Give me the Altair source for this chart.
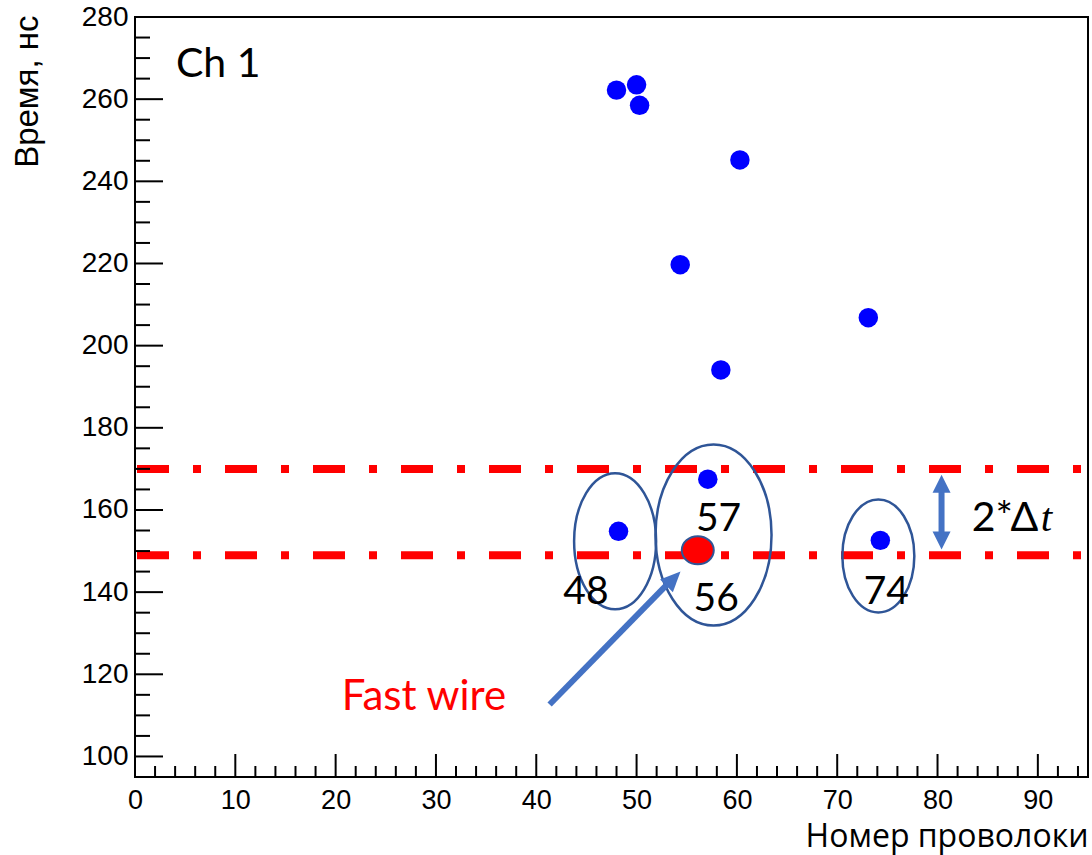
import altair as alt
import pandas as pd

# ---------------- data ----------------
wire = [48.0, 50.0, 50.3, 60.3, 54.35, 73.1, 58.4, 57.1, 48.2, 74.3]
time_ns = [262.2, 263.5, 258.5, 245.2, 219.7, 206.8, 194.1, 167.5, 154.8, 152.6]

fast_wire = [56.1]
fast_time = [150.2]

band_levels = [170.0, 149.0]

group_x = [47.86, 57.67, 74.1]
group_y = [152.4, 153.9, 148.8]

label_text = ["48", "57", "56", "74"]
label_x = [44.95, 58.17, 57.94, 74.9]
label_y = [137.2, 154.8, 135.3, 137.0]

x_major = [0, 10, 20, 30, 40, 50, 60, 70, 80, 90]
x_minor = [v for v in range(2, 96, 2) if v % 10 != 0]
y_major = [100, 120, 140, 160, 180, 200, 220, 240, 260, 280]
y_minor = [v for v in range(105, 280, 5) if v % 20 != 0]

# annotation anchors (data coordinates)
fast_arrow_from = [41.33, 112.65]
fast_arrow_to = [53.1, 142.0]
fast_arrow_tip = [54.38, 145.0]
dt_x = [80.4]
dt_top = [168.6]
dt_bottom = [150.35]
dt_shaft = [164.6, 154.4]

W, H = 953, 760
xs = alt.Scale(domain=[0, 95], nice=False, zero=False)
ys = alt.Scale(domain=[95, 280], nice=False, zero=False)

BLUE_ARROW = "#4472C4"
ELL = "#2F5597"


def ellipse_path(a):
    k = 0.5523
    return (f"M {a} 0 C {a} {k}, {a*k} 1, 0 1 C {-a*k} 1, {-a} {k}, {-a} 0 "
            f"C {-a} {-k}, {-a*k} -1, 0 -1 C {a*k} -1, {a} {-k}, {a} 0 Z")


def X(field="x"):
    return alt.X(f"{field}:Q", scale=xs, axis=None)


def Y(field="y"):
    return alt.Y(f"{field}:Q", scale=ys, axis=None)


# ---------------- base layer with the axes ----------------
pts = pd.DataFrame({"x": wire, "y": time_ns})
points = alt.Chart(pts).mark_circle(size=380, color="#0000FF", opacity=1).encode(
    x=alt.X("x:Q", scale=xs, axis=alt.Axis(
        values=x_major, grid=False, ticks=False, domain=False,
        labelFont="Liberation Sans", labelFontSize=27, labelColor="black",
        labelPadding=10, labelFlush=False, labelOverlap=False,
        title="Номер проволоки", titleFont="Open Sans", titleFontSize=32,
        titleFontWeight="normal", titleColor="black",
        titleX=W, titleY=69, titleAlign="right", titleBaseline="alphabetic",
        titleAnchor="end")),
    y=alt.Y("y:Q", scale=ys, axis=alt.Axis(
        values=y_major, grid=False, ticks=False, domain=False,
        labelFont="Liberation Sans", labelFontSize=28, labelColor="black",
        labelPadding=7, labelFlush=False, labelOverlap=False,
        title="Время, нс", titleFont="Liberation Sans", titleFontSize=33,
        titleFontWeight="normal", titleColor="black", titleAngle=270,
        titleX=-98, titleY=-2, titleAlign="right", titleBaseline="alphabetic",
        titleAnchor="end")),
)

# inward ticks (ROOT style)
xt_major = alt.Chart(pd.DataFrame({"x": x_major})).mark_rule(color="black", strokeWidth=2).encode(
    x=X(), y=alt.value(H), y2=alt.value(H - 23))
xt_minor = alt.Chart(pd.DataFrame({"x": x_minor})).mark_rule(color="black", strokeWidth=2).encode(
    x=X(), y=alt.value(H), y2=alt.value(H - 11))
yt_major = alt.Chart(pd.DataFrame({"y": y_major})).mark_rule(color="black", strokeWidth=2).encode(
    y=Y(), x=alt.value(0), x2=alt.value(28))
yt_minor = alt.Chart(pd.DataFrame({"y": y_minor})).mark_rule(color="black", strokeWidth=2).encode(
    y=Y(), x=alt.value(0), x2=alt.value(15))

# red dash-dot band
band = alt.Chart(pd.DataFrame({"y": band_levels})).mark_rule(
    color="#FF0000", strokeWidth=8, strokeDash=[32, 24, 8, 24], strokeCap="butt"
).encode(y=Y(), x=alt.value(2), x2=alt.value(W))

# ellipses around groups
ell_specs = [(0.603, 136 ** 2), (0.641, 181 ** 2), (0.637, 113 ** 2)]
ellipses = []
for i, (a, s) in enumerate(ell_specs):
    ellipses.append(
        alt.Chart(pd.DataFrame({"x": [group_x[i]], "y": [group_y[i]]})).mark_point(
            shape=ellipse_path(a), size=s, filled=False, stroke=ELL, strokeWidth=2.5, opacity=1
        ).encode(x=X(), y=Y())
    )

fast = alt.Chart(pd.DataFrame({"x": fast_wire, "y": fast_time})).mark_point(
    shape=ellipse_path(1.143), size=28 ** 2, filled=True, fill="#FF0000",
    stroke=ELL, strokeWidth=2, opacity=1, fillOpacity=1
).encode(x=X(), y=Y())

# arrows
head = "M 0 0 L -0.45 1 L 0.45 1 Z"
fast_shaft = alt.Chart(pd.DataFrame({
    "x": [fast_arrow_from[0]], "y": [fast_arrow_from[1]],
    "x2": [fast_arrow_to[0]], "y2": [fast_arrow_to[1]]})).mark_rule(
    color=BLUE_ARROW, strokeWidth=6, strokeCap="butt").encode(
    x=X(), y=Y(), x2="x2:Q", y2="y2:Q")
fast_head = alt.Chart(pd.DataFrame({"x": [fast_arrow_tip[0]], "y": [fast_arrow_tip[1]]})).mark_point(
    shape=head, size=1600, filled=True, color=BLUE_ARROW, opacity=1, angle=44.6
).encode(x=X(), y=Y())

dt_shaft_l = alt.Chart(pd.DataFrame({"x": dt_x, "y": [dt_shaft[0]], "y2": [dt_shaft[1]]})).mark_rule(
    color=BLUE_ARROW, strokeWidth=6, strokeCap="butt").encode(x=X(), y=Y(), y2="y2:Q")
dt_head_top = alt.Chart(pd.DataFrame({"x": dt_x, "y": dt_top})).mark_point(
    shape="M 0 0 L -0.5 1 L 0.5 1 Z", size=1296, filled=True, color=BLUE_ARROW, opacity=1, angle=0
).encode(x=X(), y=Y())
dt_head_bot = alt.Chart(pd.DataFrame({"x": dt_x, "y": dt_bottom})).mark_point(
    shape="M 0 0 L -0.5 1 L 0.5 1 Z", size=1296, filled=True, color=BLUE_ARROW, opacity=1, angle=180
).encode(x=X(), y=Y())

# texts
labels = alt.Chart(pd.DataFrame({"x": label_x, "y": label_y, "t": label_text})).mark_text(
    font="Lato", fontSize=39, align="center", baseline="alphabetic", color="black"
).encode(x=X(), y=Y(), text="t:N")

ch1 = alt.Chart(pd.DataFrame({"x": [4.08], "y": [265.4], "t": ["Ch 1"]})).mark_text(
    font="Lato", fontSize=41, align="left", baseline="alphabetic", color="black"
).encode(x=X(), y=Y(), text="t:N")

fast_txt = alt.Chart(pd.DataFrame({"x": [20.6], "y": [111.4], "t": ["Fast wire"]})).mark_text(
    font="Lato", fontSize=42, align="left", baseline="alphabetic", color="#FF0000"
).encode(x=X(), y=Y(), text="t:N")

dt_txt = alt.Chart(pd.DataFrame({"x": [83.4], "y": [154.8], "t": ["2*Δ"]})).mark_text(
    font="Lato, Open Sans", fontSize=41, align="left", baseline="alphabetic", color="black"
).encode(x=X(), y=Y(), text="t:N")
dt_t = alt.Chart(pd.DataFrame({"x": [90.3], "y": [154.8], "t": ["t"]})).mark_text(
    font="Liberation Serif", fontStyle="italic", fontSize=41, align="left",
    baseline="alphabetic", color="black"
).encode(x=X(), y=Y(), text="t:N")

chart = alt.layer(
    points, band, *ellipses, fast,
    fast_shaft, fast_head, dt_shaft_l, dt_head_top, dt_head_bot,
    labels, ch1, fast_txt, dt_txt, dt_t,
    xt_major, xt_minor, yt_major, yt_minor,
).resolve_axis(x="independent", y="independent").properties(
    width=W, height=H,
    autosize=alt.AutoSizeParams(type="none"),
    padding={"left": 135, "top": 17, "right": 4, "bottom": 78},
    background="white",
).configure_view(stroke="black", strokeWidth=2)

chart.save("out.html", embed_options={"renderer": "svg", "actions": False})
